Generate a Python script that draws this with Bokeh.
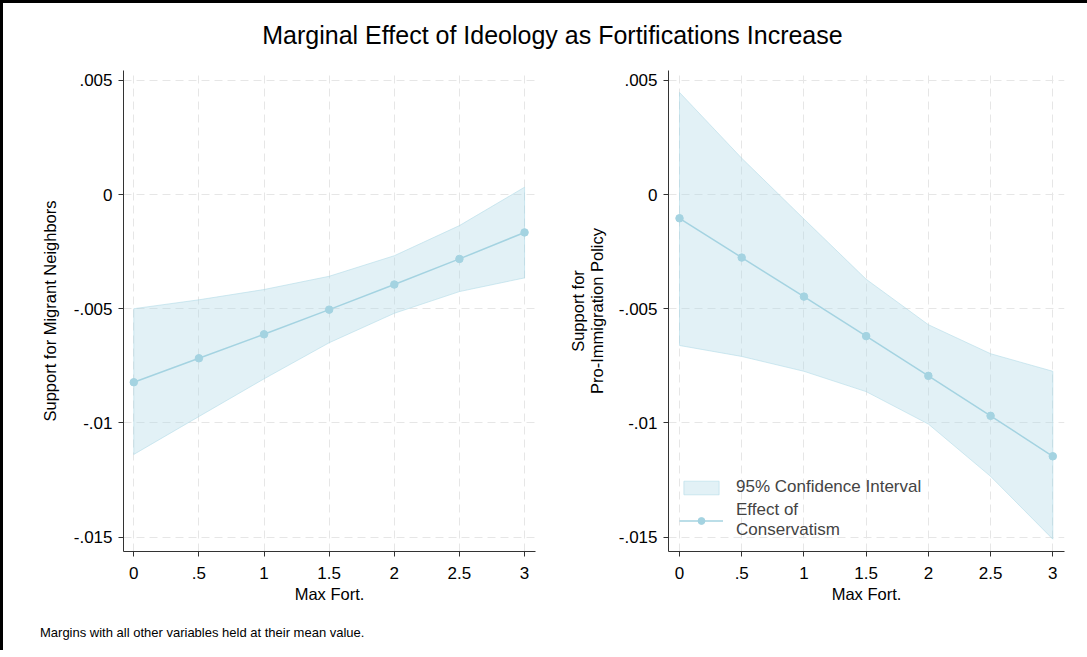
from bokeh.plotting import figure
from bokeh.layouts import column, row
from bokeh.models import Div, FixedTicker, Legend, LegendItem, Range1d
from bokeh.embed import file_html
from bokeh.resources import INLINE

# ---- data ----
max_fort = [0, 0.5, 1, 1.5, 2, 2.5, 3]
nb_effect = [-0.00822, -0.00717, -0.00612, -0.00504, -0.00394, -0.00282, -0.00166]
nb_upper = [-0.00500, -0.00461, -0.00416, -0.00358, -0.00268, -0.00136, 0.00032]
nb_lower = [-0.01138, -0.00972, -0.00807, -0.00649, -0.00520, -0.00425, -0.00365]
pol_effect = [-0.00104, -0.00276, -0.00447, -0.00620, -0.00794, -0.00969, -0.01146]
pol_upper = [0.00447, 0.00159, -0.00107, -0.00371, -0.00570, -0.00697, -0.00774]
pol_lower = [-0.00661, -0.00709, -0.00774, -0.00863, -0.01005, -0.01234, -0.01509]

x_ticks = [0, 0.5, 1, 1.5, 2, 2.5, 3]
x_tick_labels = ["0", ".5", "1", "1.5", "2", "2.5", "3"]
y_ticks = [0.005, 0, -0.005, -0.01, -0.015]
y_tick_labels = [".005", "0", "-.005", "-.01", "-.015"]

title_text = "Marginal Effect of Ideology as Fortifications Increase"
note_text = "Margins with all other variables held at their mean value."

FONT = "Liberation Sans"
BAND = "#add8e6"
LINE = "#a4d3e1"
AXIS = "#333333"
GRID = "#e6e6e6"


def make_panel(width, border_left, border_right, x_range, ylabel, effect, upper, lower,
               ylabel_standoff, legend=False):
    p = figure(width=width, height=552, output_backend="svg", toolbar_location=None,
               x_range=Range1d(*x_range), y_range=Range1d(-0.01563, 0.00543),
               min_border_left=border_left, min_border_right=border_right,
               min_border_top=12, min_border_bottom=59)
    p.outline_line_color = None
    p.background_fill_color = "white"
    p.border_fill_color = "white"

    band_x = list(max_fort) + list(reversed(max_fort))
    band_y = list(upper) + list(reversed(lower))
    band = p.patch(band_x, band_y, fill_color=BAND, fill_alpha=0.35,
                   line_color=BAND, line_alpha=0.55, line_width=1)
    ln = p.line(max_fort, effect, line_color=LINE, line_width=1.5)
    sc = p.scatter(max_fort, effect, size=7.5, fill_color=LINE, line_color=LINE)

    for ax in (p.xaxis[0], p.yaxis[0]):
        ax.axis_line_color = AXIS
        ax.major_tick_line_color = AXIS
        ax.minor_tick_line_color = None
        ax.major_tick_out = 5
        ax.major_tick_in = 0
        ax.major_label_text_font = FONT
        ax.major_label_text_font_size = "17px"
        ax.major_label_text_color = "black"
        ax.axis_label_text_font = FONT
        ax.axis_label_text_font_size = "16.5px"
        ax.axis_label_text_font_style = "normal"
        ax.axis_label_text_color = "black"
        ax.axis_label_text_line_height = 1.05

    p.xaxis.ticker = FixedTicker(ticks=x_ticks)
    p.xaxis.major_label_overrides = dict(zip(x_ticks, x_tick_labels))
    p.yaxis.ticker = FixedTicker(ticks=y_ticks)
    p.yaxis.major_label_overrides = dict(zip(y_ticks, y_tick_labels))
    p.xaxis.axis_label = "Max Fort."
    p.yaxis.axis_label = ylabel
    p.xaxis.major_label_standoff = 10
    p.xaxis.axis_label_standoff = 3
    p.yaxis.major_label_standoff = 6
    p.yaxis.axis_label_standoff = ylabel_standoff

    for g in (p.xgrid[0], p.ygrid[0]):
        g.grid_line_color = GRID
        g.grid_line_dash = "8 5"
        g.grid_line_width = 1

    if legend:
        leg = Legend(items=[LegendItem(label="95% Confidence Interval", renderers=[band]),
                            LegendItem(label="Effect of\nConservatism", renderers=[ln, sc])],
                     location="bottom_left")
        leg.label_text_font = FONT
        leg.label_text_font_size = "17px"
        leg.label_text_line_height = 0.85
        leg.glyph_width = 44
        leg.glyph_height = 17
        leg.spacing = 3
        leg.label_standoff = 13
        leg.background_fill_alpha = 0
        leg.border_line_alpha = 0
        leg.margin = 7
        leg.padding = 4
        p.add_layout(leg)
    return p


p1 = make_panel(557, 120, 25, (-0.079, 3.084), "Support for Migrant Neighbors",
                nb_effect, nb_upper, nb_lower, ylabel_standoff=12)
p2 = make_panel(519, 108, 15, (-0.0884, 3.094), "Support for\nPro-Immigration Policy",
                pol_effect, pol_upper, pol_lower, ylabel_standoff=10, legend=True)

title = Div(text=f'<div style="font-family:\'{FONT}\';font-size:25px;color:black;'
                 f'width:1076px;box-sizing:border-box;text-align:center;'
                 f'padding-top:10px;padding-left:13px;">{title_text}</div>',
            width=1076, height=45)
note = Div(text=f'<div style="font-family:\'{FONT}\';font-size:13px;color:black;'
                f'padding-left:32px;padding-top:9px;">{note_text}</div>',
           width=1076, height=30)

layout = column(title, row(p1, p2), note,
                styles={"border-top": "3px solid black", "border-left": "3px solid black",
                        "background-color": "white"})

open("out.html", "w").write(file_html(layout, INLINE))
